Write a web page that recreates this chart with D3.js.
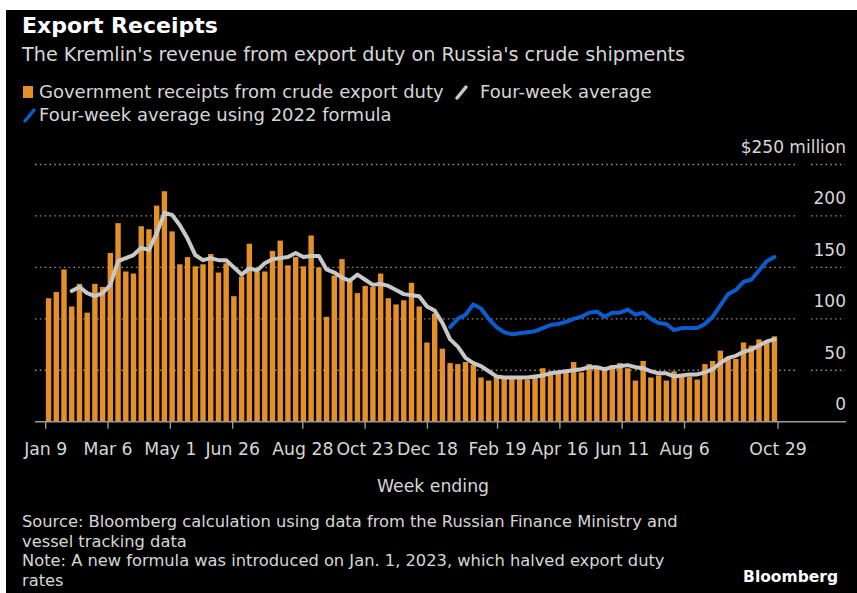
<!DOCTYPE html>
<html>
<head>
<meta charset="utf-8">
<script src="https://cdn.jsdelivr.net/npm/d3@7"></script>
<style>
  body { margin: 0; background: #fff; }
  svg { display: block; }
  text { font-family: "DejaVu Sans", sans-serif; }
</style>
</head>
<body>
<svg id="chart" width="857" height="593"></svg>
<script>
// Weekly government receipts from crude export duty, $ million (week ending, from Jan 9, 2022)
const firstWeekEnding = "2022-01-09";
const receipts = [
  120, 126, 148, 112, 134, 106, 134, 131, 164, 193,
  146, 144, 190, 187, 210, 224, 185, 153, 160, 151,
  153, 163, 145, 154, 122, 141, 173, 146, 146, 166,
  176, 152, 160, 151, 181, 150, 102, 142, 158, 138,
  125, 132, 131, 144, 120, 114, 118, 135, 112, 77,
  105, 71, 57, 56, 58, 55, 43, 40, 44, 42,
  42, 43, 41, 43, 52, 49, 47, 48, 58, 48,
  56, 52, 50, 55, 57, 52, 40, 59, 43, 45,
  40, 49, 44, 44, 41, 56, 59, 69, 62, 61,
  77, 74, 80, 78, 83
];

// Four-week average of receipts
const fourWeekAvg = [
  null, null, null, 127, 131, 125, 122, 125, 133, 156,
  159, 162, 169, 167, 183, 203, 201, 191, 178, 162,
  157, 159, 157, 157, 150, 143, 149, 147, 154, 158,
  159, 160, 164, 160, 161, 161, 148, 145, 140, 137,
  143, 138, 133, 134, 132, 128, 124, 123, 122, 112,
  108, 96, 80, 73, 62, 57, 54, 49, 44, 43,
  43, 43, 43, 44, 45, 47, 48, 49, 50, 51,
  53, 53, 51, 53, 54, 55, 53, 52, 49, 47,
  47, 44, 45, 46, 46, 48, 51, 57, 62, 64,
  68, 70, 74, 78, 80
];

// Four-week average computed with the 2022 duty formula (2023 weeks only)
const fourWeekAvg2022Formula = [
  null, null, null, null, null, null, null, null, null, null,
  null, null, null, null, null, null, null, null, null, null,
  null, null, null, null, null, null, null, null, null, null,
  null, null, null, null, null, null, null, null, null, null,
  null, null, null, null, null, null, null, null, null, null,
  null, null, 92, 100, 104, 114, 110, 100, 92, 87,
  85, 86, 87, 88, 91, 94, 95, 97, 100, 102,
  106, 107, 102, 106, 106, 109, 104, 106, 100, 96,
  95, 89, 91, 91, 91, 95, 102, 113, 124, 128,
  136, 138, 147, 156, 160
];

const tickDates = ["2022-01-09", "2022-03-06", "2022-05-01", "2022-06-26", "2022-08-28", "2022-10-23",
                   "2022-12-18", "2023-02-19", "2023-04-16", "2023-06-11", "2023-08-06", "2023-10-29"];
const tickLabels = ["Jan 9", "Mar 6", "May 1", "Jun 26", "Aug 28", "Oct 23",
                    "Dec 18", "Feb 19", "Apr 16", "Jun 11", "Aug 6", "Oct 29"];
const yTicks = [0, 50, 100, 150, 200, 250];

const parse = d3.utcParse("%Y-%m-%d");

const svg = d3.select("#chart");
const W = 857, H = 593;

// Dark panel
svg.append("rect").attr("x", 6).attr("y", 10).attr("width", W - 6).attr("height", H - 10).attr("fill", "#000");

const plotLeft = 44.7, plotRight = 778.3;
const x = d3.scaleBand().domain(d3.range(receipts.length)).range([plotLeft, plotRight])
  .paddingInner(0.3).paddingOuter(0.15);
const xt = d3.scaleUtc().domain([parse(tickDates[0]), parse(tickDates[tickDates.length - 1])])
  .range([45.7, 778]);
const y = d3.scaleLinear().domain([0, 250]).range([421.7, 164.5]);

const textCol = "#d6d6d6";

// Gridlines
const grid = svg.append("g");
yTicks.filter(v => v > 0).forEach(v => {
  [[35, 798], [811, 845]].forEach(([a, b]) => {
    grid.append("line").attr("x1", a).attr("x2", b).attr("y1", y(v)).attr("y2", y(v))
      .attr("stroke", "#8a8a8a").attr("stroke-width", 1.3).attr("stroke-dasharray", "1.6 3.2");
  });
});

// Y labels
svg.append("g").selectAll("text").data(yTicks).join("text")
  .attr("x", 846).attr("y", d => y(d) - 11.5)
  .attr("text-anchor", "end").attr("fill", textCol).attr("font-size", 17)
  .text(d => d === 250 ? "$250 million" : d);

// Bars
svg.append("g").selectAll("rect").data(receipts).join("rect")
  .attr("x", (d, i) => x(i)).attr("width", x.bandwidth())
  .attr("y", d => y(d)).attr("height", d => y(0) - y(d))
  .attr("fill", "#e3902a");

// Lines
const lineGen = d3.line().defined(d => d != null)
  .x((d, i) => x(i) + x.bandwidth() / 2).y(d => y(d));
svg.append("path").datum(fourWeekAvg).attr("d", lineGen)
  .attr("fill", "none").attr("stroke", "#c8c8c8").attr("stroke-width", 4)
  .attr("stroke-linejoin", "round").attr("stroke-linecap", "round");
svg.append("path").datum(fourWeekAvg2022Formula).attr("d", lineGen)
  .attr("fill", "none").attr("stroke", "#0b5ccc").attr("stroke-width", 4)
  .attr("stroke-linejoin", "round").attr("stroke-linecap", "round");

// X axis
const axis = svg.append("g").attr("transform", `translate(0,${y(0)})`);
axis.append("line").attr("x1", 35).attr("x2", 846).attr("stroke", "#9a9a9a").attr("stroke-width", 1.6);
tickDates.forEach((t, i) => {
  const px = xt(parse(t));
  axis.append("line").attr("x1", px).attr("x2", px).attr("y1", 0).attr("y2", 7)
    .attr("stroke", "#9a9a9a").attr("stroke-width", 1.4);
  axis.append("text").attr("x", px).attr("y", 33).attr("text-anchor", "middle")
    .attr("fill", textCol).attr("font-size", 17.3).text(tickLabels[i]);
});
svg.append("text").attr("x", 433).attr("y", 492).attr("text-anchor", "middle")
  .attr("fill", textCol).attr("font-size", 17.3).text("Week ending");

// Titles
svg.append("text").attr("x", 22).attr("y", 33).attr("fill", "#fff")
  .attr("font-size", 22).attr("font-weight", "bold").text("Export Receipts");
svg.append("text").attr("x", 22).attr("y", 61).attr("fill", textCol)
  .attr("font-size", 19.2).text("The Kremlin's revenue from export duty on Russia's crude shipments");

// Legend
const lg = svg.append("g");
lg.append("rect").attr("x", 23).attr("y", 86).attr("width", 10).attr("height", 12).attr("fill", "#e3902a");
lg.append("text").attr("x", 39).attr("y", 98).attr("fill", textCol).attr("font-size", 18)
  .text("Government receipts from crude export duty");
lg.append("line").attr("x1", 457).attr("y1", 98).attr("x2", 466).attr("y2", 87)
  .attr("stroke", "#c8c8c8").attr("stroke-width", 3.5).attr("stroke-linecap", "round");
lg.append("text").attr("x", 480).attr("y", 98).attr("fill", textCol).attr("font-size", 18)
  .text("Four-week average");
lg.append("line").attr("x1", 25).attr("y1", 121).attr("x2", 34).attr("y2", 110)
  .attr("stroke", "#0b5ccc").attr("stroke-width", 3.5).attr("stroke-linecap", "round");
lg.append("text").attr("x", 39).attr("y", 121).attr("fill", textCol).attr("font-size", 18)
  .text("Four-week average using 2022 formula");

// Notes
const notes = [
  "Source: Bloomberg calculation using data from the Russian Finance Ministry and",
  "vessel tracking data",
  "Note: A new formula was introduced on Jan. 1, 2023, which halved export duty",
  "rates"
];
svg.append("g").selectAll("text").data(notes).join("text")
  .attr("x", 22).attr("y", (d, i) => [527, 547, 566, 586][i])
  .attr("fill", textCol).attr("font-size", 16.3).text(d => d);
svg.append("text").attr("x", 838).attr("y", 582).attr("text-anchor", "end")
  .attr("fill", "#fff").attr("font-size", 15.5).attr("font-weight", "bold").text("Bloomberg");
</script>
</body>
</html>
